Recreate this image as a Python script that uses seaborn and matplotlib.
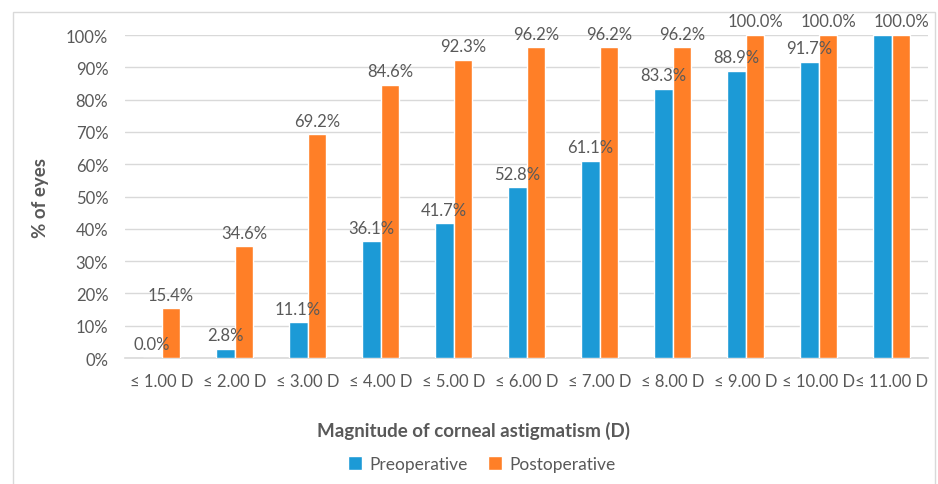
import matplotlib
matplotlib.use("Agg")
import matplotlib.pyplot as plt
import seaborn as sns
import pandas as pd
from matplotlib.patches import Rectangle, Patch

categories = ["≤ 1.00 D", "≤ 2.00 D", "≤ 3.00 D", "≤ 4.00 D", "≤ 5.00 D", "≤ 6.00 D",
              "≤ 7.00 D", "≤ 8.00 D", "≤ 9.00 D", "≤ 10.00 D", "≤ 11.00 D"]
preoperative = [0.0, 2.8, 11.1, 36.1, 41.7, 52.8, 61.1, 83.3, 88.9, 91.7, 100.0]
postoperative = [15.4, 34.6, 69.2, 84.6, 92.3, 96.2, 96.2, 96.2, 100.0, 100.0, 100.0]
series = ["Preoperative", "Postoperative"]
yticks = list(range(0, 101, 10))

sns.set_theme(style="white")
plt.rcParams['font.family'] = ['Lato', 'DejaVu Sans']

TXT = "#595959"
GRID = "#D9D9D9"
colors = {"Preoperative": "#1C9AD6", "Postoperative": "#FF7F27"}

df = pd.DataFrame({
    "cat": categories * 2,
    "val": preoperative + postoperative,
    "series": [series[0]] * len(categories) + [series[1]] * len(categories),
})

fig = plt.figure(figsize=(9.38, 4.85), dpi=100)
W, H = 938, 485
ax = fig.add_axes([125 / W, 1 - 359 / H, (928 - 125) / W, (359 - 36) / H])

sns.barplot(data=df, x="cat", y="val", hue="series", palette=colors, ax=ax,
            width=0.52, gap=0, saturation=1, legend=False, zorder=3)

ax.set_ylim(0, 100)
ax.set_xlim(-0.5, len(categories) - 0.5)
ax.set_yticks(yticks)
ax.set_yticklabels([f"{t}%" for t in yticks])
ax.yaxis.grid(True, color=GRID, linewidth=1, zorder=0)
ax.set_axisbelow(True)
for s in ["top", "right", "left"]:
    ax.spines[s].set_visible(False)
ax.spines["bottom"].set_color(GRID)
ax.spines["bottom"].set_linewidth(1.2)
ax.tick_params(axis="both", length=0, labelsize=12, colors=TXT)
ax.tick_params(axis="x", pad=11)
ax.tick_params(axis="y", pad=12)

# data labels
vals = [preoperative, postoperative]
for i, cont in enumerate(ax.containers):
    labs = [f"{v:.1f}%" for v in vals[i]]
    if i == 0:
        labs[-1] = ""
    ax.bar_label(cont, labels=labs, padding=4, fontsize=12, color=TXT)

ax.set_xlabel("Magnitude of corneal astigmatism (D)", fontsize=13.5, fontweight="bold", color=TXT)
ax.xaxis.set_label_coords((473 - 125) / 803, -0.195)
ax.set_ylabel("% of eyes", fontsize=13.5, fontweight="bold", color=TXT)
ax.yaxis.set_label_coords((49 - 125) / 803, 0.5)

handles = [Patch(facecolor=colors[s], label=s) for s in series]
fig.legend(handles=handles, loc="center", bbox_to_anchor=(482 / W, 1 - 465 / H), ncol=2,
           frameon=False, fontsize=12.5, labelcolor=TXT, handlelength=0.8, handleheight=0.8,
           columnspacing=1.2, handletextpad=0.4)

fig.patches.append(Rectangle((13 / W, -0.05), (935 - 13) / W, 1.05 - 13 / H,
                             transform=fig.transFigure, fill=False, edgecolor=GRID, linewidth=1))

fig.savefig("out.png", dpi=100)
